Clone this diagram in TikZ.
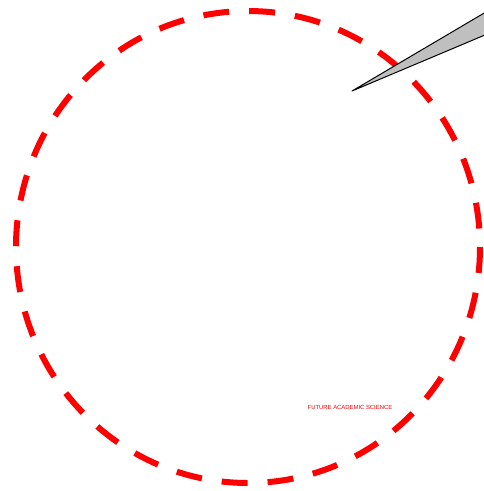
\documentclass[tikz,border=0pt]{standalone}
\usepackage{fontspec}
\setsansfont{Liberation Sans}
\begin{document}
\begin{tikzpicture}[x=1pt,y=-1pt,line join=round,line cap=butt,
  vong/.style={red,line width=6pt,dash pattern=on 26pt off 20pt},
  kim/.style={draw=black,fill=black!25,line width=1pt}]

				% Khung hình
				\useasboundingbox (0,0) rectangle (484,491);
				\clip (0,0) rectangle (484,491);

				% Các điểm
				\coordinate (O) at (248,247);
				\coordinate (A) at (352,91);   % Mũi kim
				\coordinate (B) at (530,-14);
				\coordinate (C) at (530,16);

				% Vòng tròn nét đứt
				\draw[vong] (O) ellipse (232 and 236);

				% Kim
				\draw[kim] (A) -- (B) -- (C) -- cycle;

				% Chữ
				\node[red,font=\sffamily\fontsize{5.9}{7}\selectfont,inner sep=0pt] (T) at (350,407) {FUTURE ACADEMIC SCIENCE};

			\end{tikzpicture}
\end{document}
